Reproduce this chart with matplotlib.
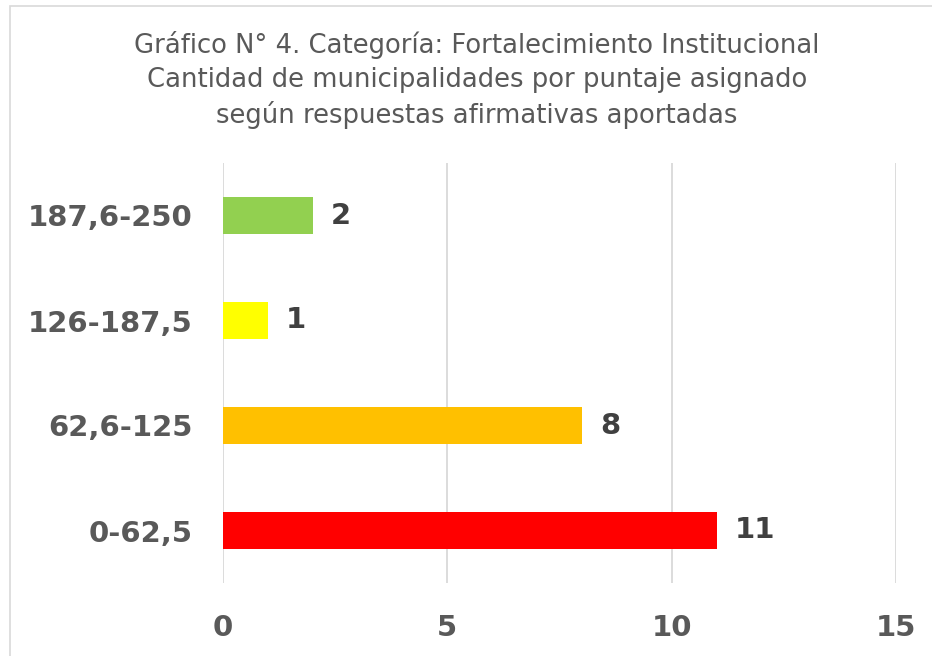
import matplotlib
matplotlib.use("Agg")
import matplotlib.pyplot as plt
from matplotlib.patches import Rectangle

categories = ["0-62,5", "62,6-125", "126-187,5", "187,6-250"]
values = [11, 8, 1, 2]
colors = ["#FF0000", "#FFC000", "#FFFF00", "#92D050"]
xticks = [0, 5, 10, 15]
title = ("Gráfico N° 4. Categoría: Fortalecimiento Institucional\n"
         "Cantidad de municipalidades por puntaje asignado\n"
         "según respuestas afirmativas aportadas")

W, H = 932, 656
fig = plt.figure(figsize=(W/100, H/100), dpi=100)
fig.patch.set_facecolor("white")
fig.patches.append(Rectangle((9.5/W, -0.1), 1.2, (H-5.5)/H + 0.1, transform=fig.transFigure,
                             fill=False, edgecolor="#D9D9D9", linewidth=1.2))

ax = fig.add_axes([223/W, 1-583/H, (896-223)/W, (583-163)/H])
y = range(len(categories))
ax.barh(y, values, height=0.36, color=colors, zorder=3)
ax.set_xlim(0, 15)
ax.set_ylim(-0.5, len(categories)-0.5)
ax.set_xticks(xticks)
ax.set_xticklabels([str(t) for t in xticks])
ax.set_yticks(list(y))
ax.set_yticklabels(categories)
for lab in ax.get_xticklabels() + ax.get_yticklabels():
    lab.set_fontweight("bold")
    lab.set_fontsize(21)
    lab.set_color("#595959")
    lab.set_family("DejaVu Sans")
ax.tick_params(axis="both", length=0)
ax.tick_params(axis="x", pad=22)
ax.tick_params(axis="y", pad=22)
ax.grid(axis="x", color="#D9D9D9", linewidth=1.3, zorder=0)
for s in ax.spines.values():
    s.set_visible(False)
for yi, v in zip(y, values):
    ax.text(v + 0.4, yi, str(v), va="center", ha="left", fontsize=21,
            fontweight="bold", color="#404040")

fig.text(477/W, 1-80/H, title, ha="center", va="center", fontsize=18.6,
         color="#595959", linespacing=1.36)

fig.savefig("out.png", dpi=100)
